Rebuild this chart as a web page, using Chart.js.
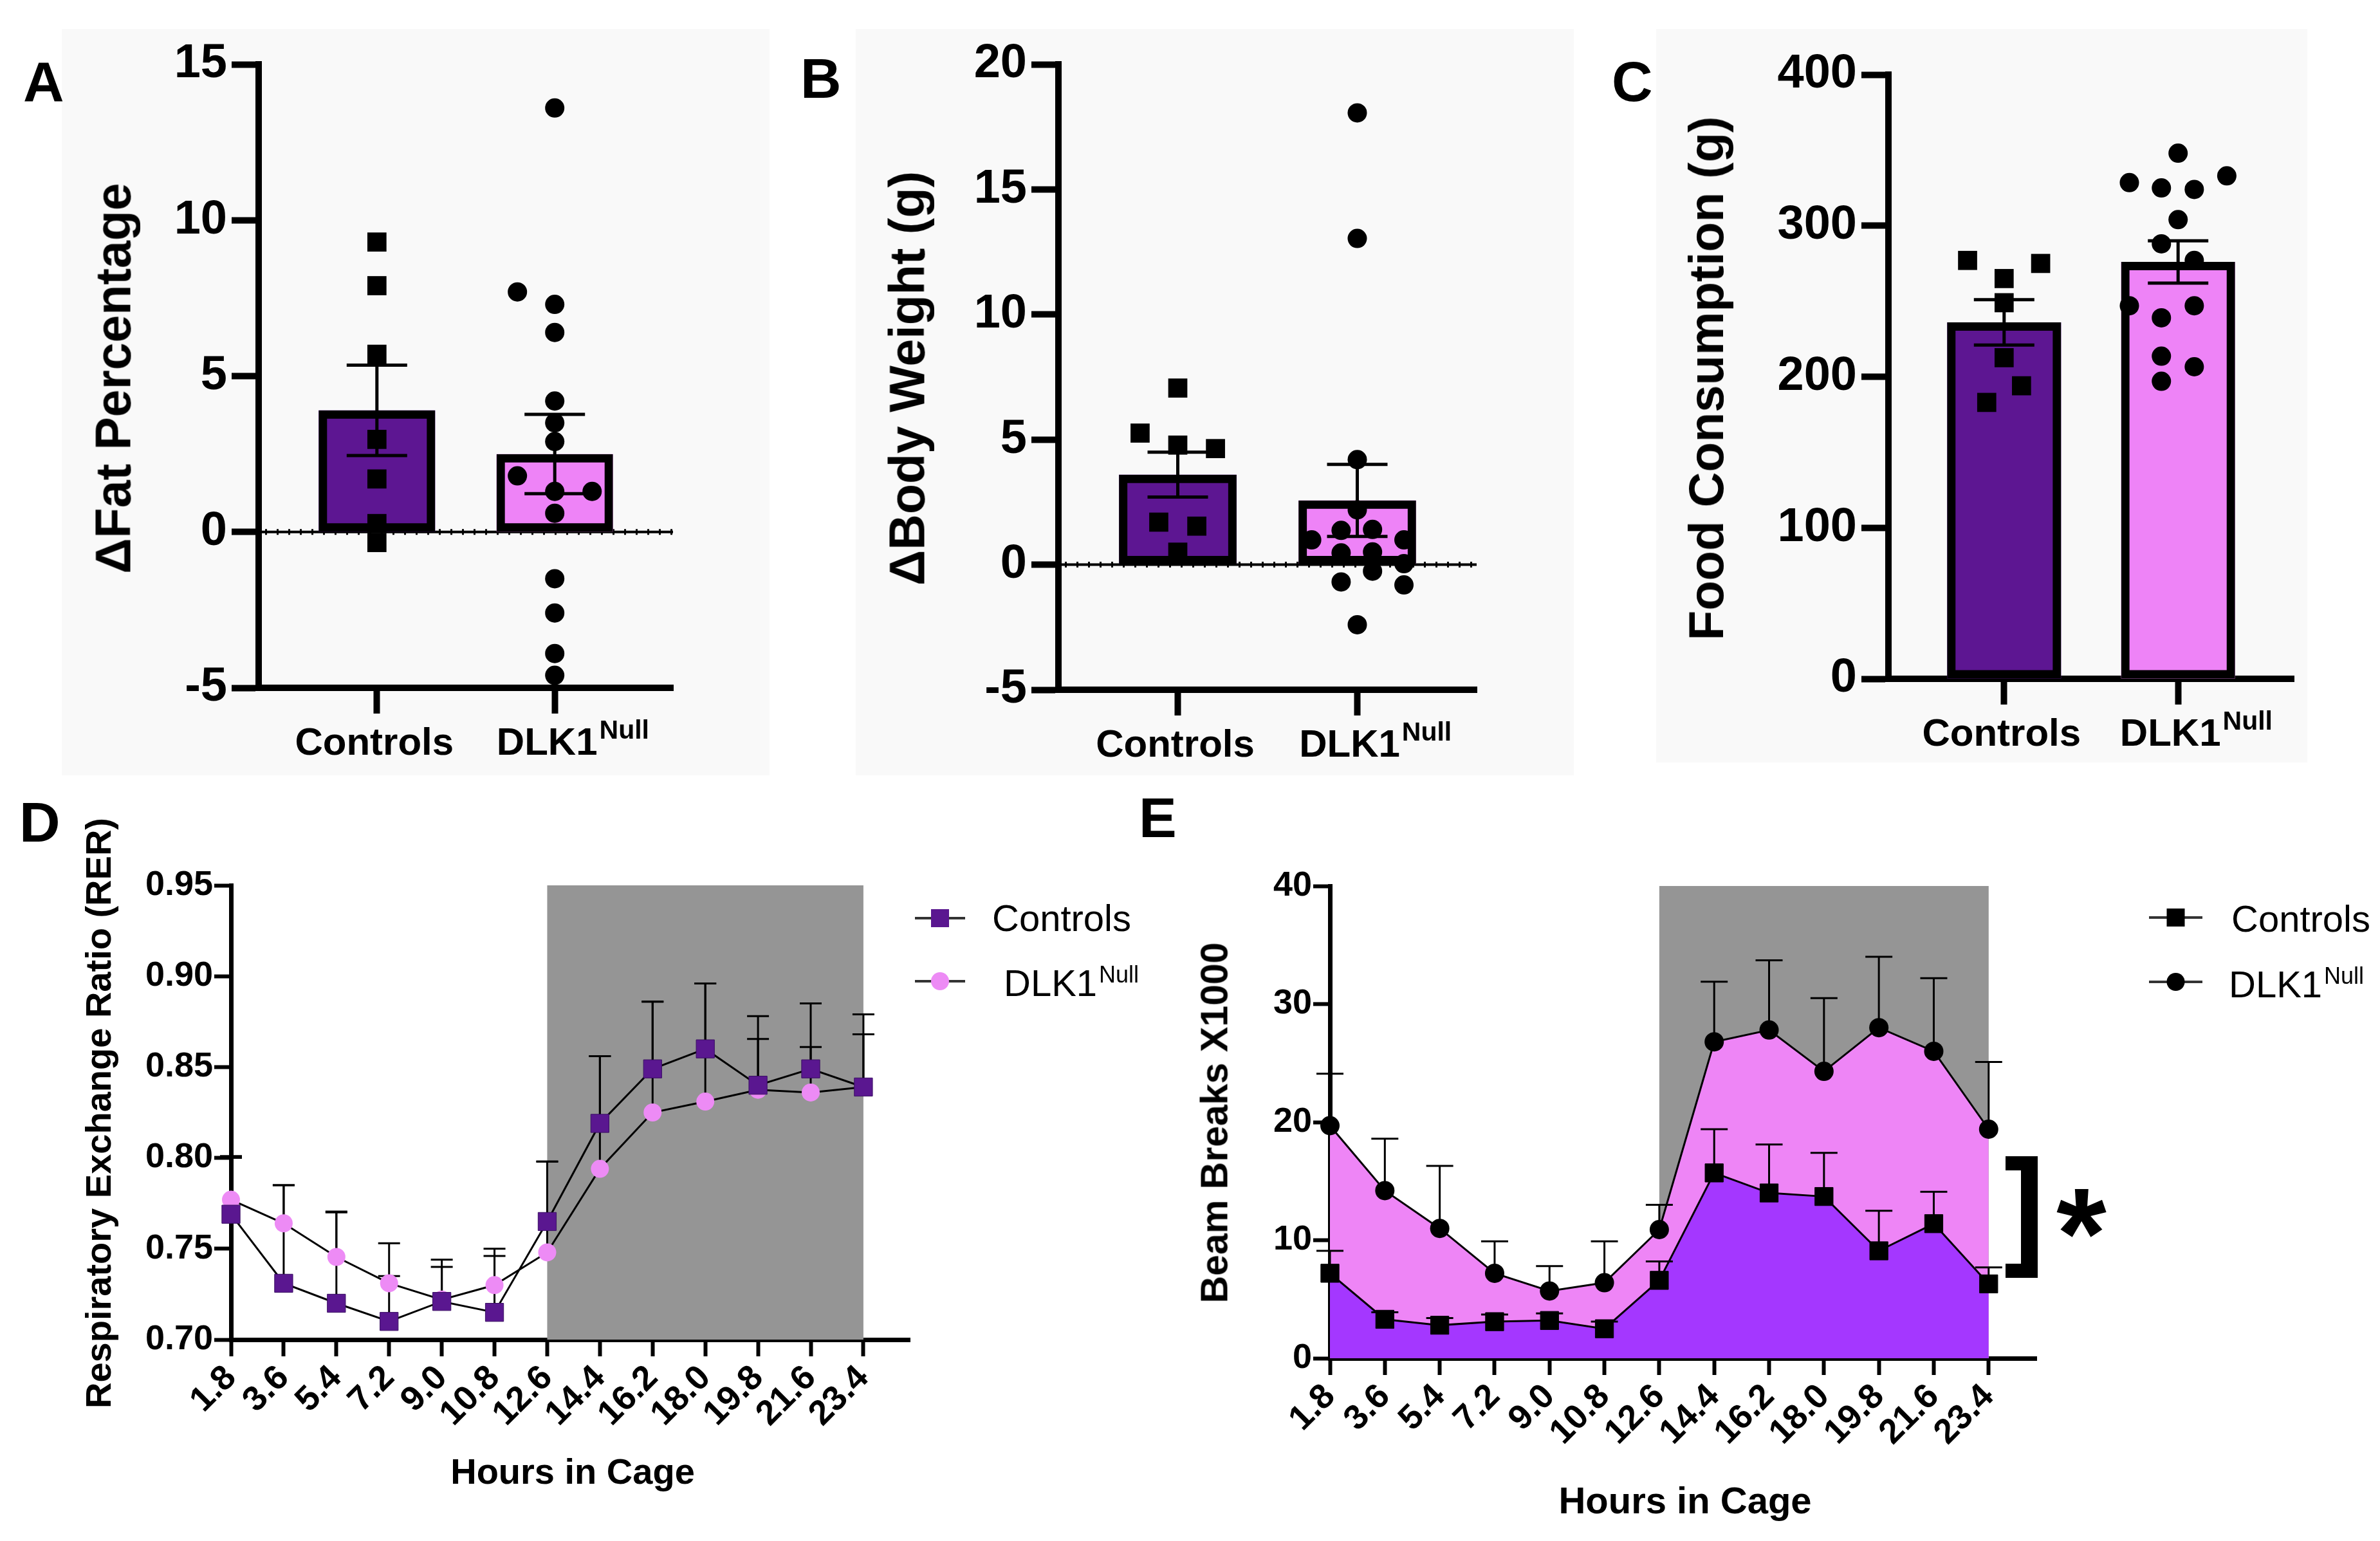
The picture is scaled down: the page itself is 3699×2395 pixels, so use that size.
<!DOCTYPE html>
<html>
<head>
<meta charset="utf-8">
<script src="https://cdn.jsdelivr.net/npm/chart.js@4.4.1/dist/chart.umd.min.js"></script>
<style>
  html, body { margin: 0; padding: 0; background: #fff; }
  #page { position: relative; width: 3699px; height: 2395px; overflow: hidden;
          font-family: "Liberation Sans", Arial, Helvetica, sans-serif; color: #000; }
  .box { position: absolute; background: #f9f9f9; }
  canvas { position: absolute; }
  .t { position: absolute; white-space: nowrap; line-height: 1; font-weight: bold; }
  .yt { transform: translate(-50%, -50%) rotate(-90deg); }
  .xt { transform: translate(-50%, -50%); }
  .letter { font-size: 88px; }
  #bracket { position: absolute; left: 3117px; top: 1797px; width: 50px; height: 189px; box-sizing: border-box;
             border-top: 22px solid #000; border-bottom: 22px solid #000; border-right: 26px solid #000; }
</style>
</head>
<body>
<div id="page">
  <div class="box" style="left:96px;top:45px;width:1100px;height:1160px"></div>
  <div class="box" style="left:1330px;top:45px;width:1116px;height:1160px"></div>
  <div class="box" style="left:2574px;top:45px;width:1012px;height:1140px"></div>

  <canvas id="cA" width="1230" height="1230" style="left:0;top:0"></canvas>
  <canvas id="cB" width="1240" height="1230" style="left:1230px;top:0"></canvas>
  <canvas id="cC" width="1229" height="1230" style="left:2470px;top:0"></canvas>
  <canvas id="cD" width="1780" height="1165" style="left:0;top:1230px"></canvas>
  <canvas id="cE" width="1919" height="1165" style="left:1780px;top:1230px"></canvas>

  <div class="t letter" style="left:36px;top:83px">A</div>
  <div class="t letter" style="left:1244px;top:78px">B</div>
  <div class="t letter" style="left:2505px;top:83px">C</div>
  <div class="t letter" style="left:30px;top:1234px">D</div>
  <div class="t letter" style="left:1770px;top:1227px">E</div>

  <div class="t yt" style="left:176px;top:588px;font-size:77px">ΔFat Percentage</div>
  <div class="t yt" style="left:1410px;top:588px;font-size:77px">ΔBody Weight (g)</div>
  <div class="t yt" style="left:2652px;top:588px;font-size:76px">Food Consumption (g)</div>
  <div class="t yt" style="left:153px;top:1730px;font-size:56px">Respiratory Exchange Ratio (RER)</div>
  <div class="t yt" style="left:1888px;top:1745px;font-size:59px">Beam Breaks X1000</div>
  <div class="t xt" style="left:890px;top:2287px;font-size:56px">Hours in Cage</div>
  <div class="t xt" style="left:2619px;top:2332px;font-size:58px">Hours in Cage</div>

  <div id="bracket"></div>
  <div class="t" style="left:3235px;top:1817px;font-size:200px;transform:translateX(-50%)">*</div>
</div>

<script>
// groups on the bar panels
const groups = ["Controls", "DLK1"];
const nullSup = "Null";

// A: change in fat percentage
const fatTicks = [-5, 0, 5, 10, 15];
const fatMean = [3.9, 2.5];
const fatSem = [1.45, 1.27];
const fatCtrl = [9.3, 7.9, 5.7, 2.97, 1.7, 0.27, -0.34];
const fatCtrlJit = [0, 0, 0, 0, 0, 0, 0];
const fatNull = [13.6, 7.7, 7.3, 6.4, 4.2, 3.5, 2.9, 1.8, 1.3, 1.3, 0.6, -1.5, -2.6, -3.9, -4.6];
const fatNullJit = [0, -0.21, 0, 0, 0, 0, 0, -0.21, 0, 0.21, 0, 0, 0, 0, 0];

// B: change in body weight (g)
const bwTicks = [-5, 0, 5, 10, 15, 20];
const bwMean = [3.6, 2.57];
const bwSem = [0.9, 1.44];
const bwCtrl = [7.06, 5.26, 4.78, 4.64, 1.7, 1.54, 0.5];
const bwCtrlJit = [0, -0.21, 0, 0.21, -0.106, 0.106, 0];
const bwNull = [18.06, 13.04, 4.2, 2.19, 1.37, 1.41, 0.99, 0.99, 0.47, 0.51, 0.04, -0.26, -0.69, -0.81, -2.4];
const bwNullJit = [0, 0, 0, 0, -0.09, 0.085, -0.254, 0.26, -0.09, 0.085, 0.26, 0.085, -0.09, 0.26, 0];

// C: food consumption (g)
const foodTicks = [0, 100, 200, 300, 400];
const foodMean = [236, 276];
const foodSem = [15, 14];
const foodCtrl = [277, 275, 265, 249, 212.6, 194, 183];
const foodCtrlJit = [-0.21, 0.21, 0, 0, 0, 0.1, -0.1];
const foodNull = [348, 333, 328.5, 325, 324, 304, 288, 277, 247, 247, 239, 213.6, 206.6, 197];
const foodNullJit = [0, 0.28, -0.28, -0.096, 0.093, 0, -0.096, 0.093, -0.28, 0.093, -0.096, -0.096, 0.093, -0.096];

// D/E: time course
const hours = ["1.8", "3.6", "5.4", "7.2", "9.0", "10.8", "12.6", "14.4", "16.2", "18.0", "19.8", "21.6", "23.4"];
const darkFrom = "12.6";
const darkTo = "23.4";

const rerTicks = [0.70, 0.75, 0.80, 0.85, 0.90, 0.95];
const rerCtrl = [0.769, 0.731, 0.720, 0.710, 0.721, 0.715, 0.765, 0.819, 0.849, 0.860, 0.840, 0.849, 0.839];
const rerCtrlSem = [0.031, 0.054, 0.050, 0.025, 0.023, 0.035, 0.033, 0.037, 0.037, 0.036, 0.038, 0.036, 0.040];
const rerNull = [0.777, 0.764, 0.7455, 0.731, 0.722, 0.730, 0.748, 0.794, 0.825, 0.831, 0.8375, 0.836, 0.839];
const rerNullSem = [0.024, 0.021, 0.025, 0.022, 0.018, 0.016, 0.050, 0.062, 0.061, 0.065, 0.028, 0.025, 0.029];

const beamTicks = [0, 10, 20, 30, 40];
const beamCtrl = [7.2, 3.3, 2.8, 3.1, 3.2, 2.5, 6.6, 15.7, 14.0, 13.7, 9.1, 11.4, 6.3];
const beamCtrlSem = [1.9, 0.6, 0.6, 0.6, 0.6, 0.6, 1.6, 3.7, 4.1, 3.7, 3.4, 2.7, 1.4];
const beamNull = [19.7, 14.2, 11.0, 7.2, 5.7, 6.4, 10.9, 26.8, 27.8, 24.3, 28.0, 26.0, 19.4];
const beamNullSem = [4.4, 4.4, 5.3, 2.7, 2.1, 3.5, 2.1, 5.1, 5.9, 6.2, 6.0, 6.2, 5.7];

// colours
const ctrlBar = "#5d1692";
const nullBar = "#ee83f7";
const ctrlDot = "#5a1790";
const nullDot = "#ed8bf5";
const ctrlArea = "#a437ff";
const nullArea = "#ee85f6";
const darkGray = "#959595";

const fam = '"Liberation Sans", Arial, Helvetica, sans-serif';
Chart.defaults.font.family = fam;
Chart.defaults.color = "#000";

////////////////// bar + dot panels (A, B, C) //////////////////
function barPanel(id, p) {
  const cv = document.getElementById(id);
  const W = cv.width, H = cv.height, a = p.area;
  const YW = 200, XH = 60;
  const barData = groups.map((g, i) => ({ x: i + 1, y: p.mean[i] }));
  const dots = (vals, jit, c) => vals.map((v, i) => ({ x: c + jit[i], y: v }));

  const deco = {
    id: "deco",
    beforeDatasetsDraw(chart) {
      if (!p.zeroLine) return;
      const { ctx, chartArea: ca, scales: { y } } = chart;
      const y0 = y.getPixelForValue(0);
      ctx.save();
      ctx.strokeStyle = "#000";
      ctx.lineWidth = 4;
      ctx.beginPath(); ctx.moveTo(ca.left, y0); ctx.lineTo(ca.right, y0); ctx.stroke();
      ctx.setLineDash([3, 15]);
      ctx.lineWidth = 9;
      ctx.beginPath(); ctx.moveTo(ca.left + 10, y0); ctx.lineTo(ca.right, y0); ctx.stroke();
      ctx.restore();
    },
    afterDatasetsDraw(chart) {
      // mean +/- SEM
      const { ctx, scales: { x, y } } = chart;
      ctx.save();
      ctx.strokeStyle = "#000";
      ctx.lineWidth = 5;
      p.mean.forEach((m, i) => {
        const px = x.getPixelForValue(i + 1);
        const hi = y.getPixelForValue(m + p.sem[i]);
        const lo = y.getPixelForValue(m - p.sem[i]);
        ctx.beginPath();
        ctx.moveTo(px, hi); ctx.lineTo(px, lo);
        ctx.moveTo(px - 47, hi); ctx.lineTo(px + 47, hi);
        ctx.moveTo(px - 47, lo); ctx.lineTo(px + 47, lo);
        ctx.stroke();
      });
      ctx.restore();
    },
    afterDraw(chart) {
      // category labels, with the superscript
      const { ctx, chartArea: ca, scales: { x } } = chart;
      const base = ca.bottom + 104;
      ctx.save();
      ctx.fillStyle = "#000";
      ctx.textBaseline = "alphabetic";
      ctx.font = "bold 60px " + fam;
      ctx.textAlign = "center";
      ctx.fillText(groups[0], x.getPixelForValue(1) - 4, base);
      ctx.textAlign = "left";
      const w1 = ctx.measureText(groups[1]).width;
      const x0 = x.getPixelForValue(2) - w1 / 2 - 12;
      ctx.fillText(groups[1], x0, base);
      ctx.font = "bold 41px " + fam;
      ctx.fillText(nullSup, x0 + w1 + 3, base - 25);
      ctx.restore();
    }
  };

  new Chart(cv, {
    type: "bar",
    data: {
      datasets: [
        { data: barData, backgroundColor: [ctrlBar, nullBar], borderWidth: 0,
          barPercentage: 0.655, categoryPercentage: 1, grouped: false, order: 3 },
        { type: "scatter", data: dots(p.ctrl, p.ctrlJit, 1), pointStyle: "rect", pointRadius: 21,
          pointBackgroundColor: "#000", pointBorderWidth: 0, clip: false, order: 2 },
        { type: "scatter", data: dots(p.nul, p.nulJit, 2), pointStyle: "circle", pointRadius: 15,
          pointBackgroundColor: "#000", pointBorderWidth: 0, clip: false, order: 2 },
        { data: barData, backgroundColor: "rgba(0,0,0,0)", borderColor: "#000", borderWidth: 13,
          borderSkipped: false, barPercentage: 0.655, categoryPercentage: 1, grouped: false, order: 1 }
      ]
    },
    options: {
      responsive: false,
      animation: false,
      devicePixelRatio: 1,
      layout: { padding: { left: a.left - YW, top: a.top, right: W - a.right, bottom: H - a.bottom - XH } },
      plugins: { legend: { display: false }, tooltip: { enabled: false } },
      scales: {
        x: {
          type: "linear", min: 0.335, max: 2.665, offset: false,
          afterBuildTicks: (s) => { s.ticks = [{ value: 1 }, { value: 2 }]; },
          afterFit: (s) => { s.height = XH; },
          ticks: { callback: () => "" },
          grid: { offset: false, drawOnChartArea: false, tickLength: 40, tickWidth: 10, tickColor: "#000" },
          border: { color: "#000", width: 10 }
        },
        y: {
          type: "linear", min: p.ticks[0], max: p.ticks[p.ticks.length - 1],
          afterBuildTicks: (s) => { s.ticks = p.ticks.map((v) => ({ value: v })); },
          afterFit: (s) => { s.width = YW; },
          ticks: { font: { size: 74, weight: "bold" }, color: "#000", padding: 7 },
          grid: { drawOnChartArea: false, tickLength: 42, tickWidth: 10, tickColor: "#000" },
          border: { color: "#000", width: 10 }
        }
      }
    },
    plugins: [deco]
  });
}

barPanel("cA", { area: { left: 402, top: 100, right: 1046, bottom: 1069 }, ticks: fatTicks, zeroLine: true,
  mean: fatMean, sem: fatSem, ctrl: fatCtrl, ctrlJit: fatCtrlJit, nul: fatNull, nulJit: fatNullJit });
barPanel("cB", { area: { left: 415, top: 100, right: 1065, bottom: 1072 }, ticks: bwTicks, zeroLine: true,
  mean: bwMean, sem: bwSem, ctrl: bwCtrl, ctrlJit: bwCtrlJit, nul: bwNull, nulJit: bwNullJit });
barPanel("cC", { area: { left: 465, top: 116, right: 1095, bottom: 1055 }, ticks: foodTicks, zeroLine: false,
  mean: foodMean, sem: foodSem, ctrl: foodCtrl, ctrlJit: foodCtrlJit, nul: foodNull, nulJit: foodNullJit });

////////////////// time course panels (D, E) //////////////////
function linePanel(id, p) {
  const cv = document.getElementById(id);
  const W = cv.width, H = cv.height, a = p.area;
  const YW = 250, XH = 150;
  const pts = (vals) => vals.map((v, i) => ({ x: i, y: v }));

  function drawErrs(chart) {
    const { ctx, scales: { x, y } } = chart;
    ctx.save();
    ctx.strokeStyle = "#000";
    ctx.lineWidth = 3;
    [[p.ctrl, p.ctrlSem], [p.nul, p.nulSem]].forEach(([vals, sem]) => {
      vals.forEach((v, i) => {
        if (sem[i] == null) return;
        const px = x.getPixelForValue(i);
        const py = y.getPixelForValue(v);
        const pt = y.getPixelForValue(v + sem[i]);
        ctx.beginPath();
        ctx.moveTo(px, py); ctx.lineTo(px, pt);
        ctx.moveTo(px - p.cap, pt); ctx.lineTo(px + p.cap, pt);
        ctx.stroke();
      });
    });
    ctx.restore();
  }

  const deco = {
    id: "deco",
    beforeDatasetsDraw(chart) {
      const { ctx, scales: { x, y } } = chart;
      const x0 = x.getPixelForValue(hours.indexOf(darkFrom));
      const x1 = x.getPixelForValue(hours.indexOf(darkTo));
      const y0 = y.getPixelForValue(p.ticks[p.ticks.length - 1]);
      const y1 = y.getPixelForValue(p.ticks[0]);
      ctx.save();
      ctx.fillStyle = darkGray;
      ctx.fillRect(x0, y0, x1 - x0, y1 - y0);
      ctx.restore();
      if (!p.errOnTop) drawErrs(chart);
    },
    afterDatasetsDraw(chart) {
      if (p.errOnTop) drawErrs(chart);
    },
    afterDraw(chart) {
      // legend
      const { ctx } = chart;
      const L = p.legend;
      ctx.save();
      L.rows.forEach((r, k) => {
        ctx.strokeStyle = "#333";
        ctx.lineWidth = 4;
        ctx.beginPath(); ctx.moveTo(L.x0, r.y); ctx.lineTo(L.x1, r.y); ctx.stroke();
        const mx = (L.x0 + L.x1) / 2;
        ctx.fillStyle = k === 0 ? p.ctrlMark : p.nulMark;
        ctx.beginPath();
        if (k === 0) ctx.rect(mx - 14, r.y - 14, 28, 28);
        else ctx.arc(mx, r.y, 14, 0, Math.PI * 2);
        ctx.fill();
        ctx.fillStyle = "#000";
        ctx.textAlign = "left";
        ctx.textBaseline = "alphabetic";
        ctx.font = "58px " + fam;
        ctx.fillText(k === 0 ? groups[0] : groups[1], r.tx, r.base);
        if (k === 1) {
          const w = ctx.measureText(groups[1]).width;
          ctx.font = "36px " + fam;
          ctx.fillText(nullSup, r.tx + w + 3, r.base - 21);
        }
      });
      ctx.restore();
    }
  };

  const ctrlSet = { label: groups[0], data: pts(p.ctrl), borderColor: "#000", borderWidth: 3,
    pointStyle: "rect", pointRadius: p.sqR, pointBackgroundColor: p.ctrlMark, pointBorderColor: p.ctrlEdge,
    pointBorderWidth: 1, clip: false, order: 0, fill: false };
  const nulSet = { label: groups[1] + " " + nullSup, data: pts(p.nul), borderColor: "#000", borderWidth: 3,
    pointStyle: "circle", pointRadius: p.ciR, pointBackgroundColor: p.nulMark, pointBorderWidth: 0,
    clip: false, order: 1, fill: false };
  if (p.areas) {
    ctrlSet.fill = "origin"; ctrlSet.backgroundColor = ctrlArea;
    nulSet.fill = "origin"; nulSet.backgroundColor = nullArea;
  }

  new Chart(cv, {
    type: "line",
    data: { datasets: [ctrlSet, nulSet] },
    options: {
      responsive: false,
      animation: false,
      devicePixelRatio: 1,
      layout: { padding: { left: a.left - YW, top: a.top, right: W - a.right, bottom: H - a.bottom - XH } },
      plugins: { legend: { display: false }, tooltip: { enabled: false } },
      scales: {
        x: {
          type: "linear", min: 0, max: p.xMax, offset: false,
          afterBuildTicks: (s) => { s.ticks = hours.map((h, i) => ({ value: i })); },
          afterFit: (s) => { s.height = XH; },
          ticks: { callback: (v) => hours[v], minRotation: 45, maxRotation: 45, autoSkip: false,
                   font: { size: 54, weight: "bold" }, color: "#000", padding: 2 },
          grid: { drawOnChartArea: false, tickLength: 26, tickWidth: 6, tickColor: "#000" },
          border: { color: "#000", width: 7 }
        },
        y: {
          type: "linear", min: p.ticks[0], max: p.ticks[p.ticks.length - 1],
          afterBuildTicks: (s) => { s.ticks = p.ticks.map((v) => ({ value: v })); },
          afterFit: (s) => { s.width = YW; },
          ticks: { callback: (v) => p.fmt(v), font: { size: 54, weight: "bold" }, color: "#000", padding: 2 },
          grid: { drawOnChartArea: false, tickLength: 26, tickWidth: 6, tickColor: "#000" },
          border: { color: "#000", width: 7 }
        }
      }
    },
    plugins: [deco]
  });
}

linePanel("cD", {
  area: { left: 359, top: 146, right: 1414, bottom: 852 }, xMax: 12.88, ticks: rerTicks,
  fmt: (v) => v.toFixed(2), ctrl: rerCtrl, ctrlSem: rerCtrlSem, nul: rerNull, nulSem: rerNullSem,
  cap: 17, errOnTop: false, areas: false, sqR: 20, ciR: 14,
  ctrlMark: ctrlDot, ctrlEdge: "#3a0f63", nulMark: nullDot,
  legend: { x0: 1422, x1: 1500, rows: [{ y: 197, tx: 1542, base: 217 }, { y: 295, tx: 1560, base: 318 }] }
});

linePanel("cE", {
  area: { left: 287, top: 147, right: 1385, bottom: 881 }, xMax: 12.87, ticks: beamTicks,
  fmt: (v) => String(v), ctrl: beamCtrl, ctrlSem: beamCtrlSem, nul: beamNull, nulSem: beamNullSem,
  cap: 21, errOnTop: true, areas: true, sqR: 20, ciR: 15,
  ctrlMark: "#000", ctrlEdge: "#000", nulMark: "#000",
  legend: { x0: 1560, x1: 1643, rows: [{ y: 196, tx: 1688, base: 218 }, { y: 296, tx: 1684, base: 320 }] }
});
</script>
</body>
</html>
